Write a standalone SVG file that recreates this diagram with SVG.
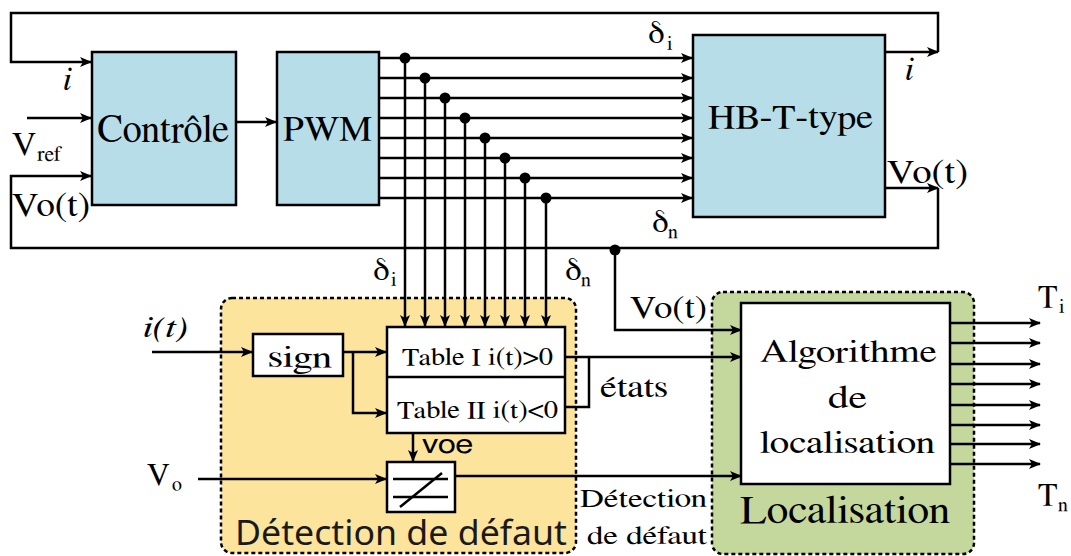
<svg xmlns="http://www.w3.org/2000/svg" width="1071" height="556" viewBox="0 0 1071 556">
<defs>
<marker id="ah" viewBox="0 0 12 10" refX="11" refY="5" markerWidth="12" markerHeight="10" markerUnits="userSpaceOnUse" orient="auto">
<path d="M0,0 L12,5 L0,10 L3,5 z" fill="#000"/>
</marker>
<style>
.ln{fill:none;stroke:#000;stroke-width:2.5}
.ar{fill:none;stroke:#000;stroke-width:2.5;marker-end:url(#ah)}
.box{stroke:#000;stroke-width:2.5}
.blue{fill:#b7dde8}
.dot{fill:#000}
</style>
</defs>
<rect width="1071" height="556" fill="#fff"/>

<g id="grp-detection">
<rect x="221" y="298" width="355" height="255" rx="11" fill="#fde49d" stroke="#000" stroke-width="2.5" stroke-dasharray="4,3"/>
<text font-family="Noto Sans, sans-serif" x="235" y="545" font-size="35" textLength="332" lengthAdjust="spacingAndGlyphs" fill="#1a1a1a">Détection de défaut</text>
</g>
<g id="grp-localisation">
<rect x="712" y="292" width="262" height="262" rx="11" fill="#c4d79c" stroke="#000" stroke-width="2.5" stroke-dasharray="4,3"/>
<text font-family="FreeSerif, Liberation Serif, serif" x="740" y="523" font-size="40" textLength="210" lengthAdjust="spacingAndGlyphs">Localisation</text>
</g>

<g id="connectors">
<path class="ar" d="M885,52 H938"/>
<path class="ar" d="M938,52 V13 H11 V62 H91"/>
<path class="ar" d="M27,118 H91"/>
<path class="ar" d="M885,188 H938"/>
<path class="ar" d="M938,188 V248 H11 V176 H91"/>
<path class="ar" d="M236,122 H276"/>
<path class="ar" d="M379,58 H692"/>
<path class="ar" d="M379,78 H692"/>
<path class="ar" d="M379,98 H692"/>
<path class="ar" d="M379,118 H692"/>
<path class="ar" d="M379,138 H692"/>
<path class="ar" d="M379,158 H692"/>
<path class="ar" d="M379,178 H692"/>
<path class="ar" d="M379,198 H692"/>
<path class="ar" d="M405,58 V326"/>
<path class="ar" d="M425,78 V326"/>
<path class="ar" d="M445,98 V326"/>
<path class="ar" d="M465,118 V326"/>
<path class="ar" d="M485,138 V326"/>
<path class="ar" d="M505,158 V326"/>
<path class="ar" d="M525,178 V326"/>
<path class="ar" d="M546,198 V326"/>
<circle class="dot" cx="405" cy="58" r="5.5"/>
<circle class="dot" cx="425" cy="78" r="5.5"/>
<circle class="dot" cx="445" cy="98" r="5.5"/>
<circle class="dot" cx="465" cy="118" r="5.5"/>
<circle class="dot" cx="485" cy="138" r="5.5"/>
<circle class="dot" cx="505" cy="158" r="5.5"/>
<circle class="dot" cx="525" cy="178" r="5.5"/>
<circle class="dot" cx="546" cy="198" r="5.5"/>
<circle class="dot" cx="615" cy="250" r="5.5"/>
<path class="ar" d="M615,250 V330 H741"/>
<path class="ar" d="M152,352 H252"/>
<path class="ar" d="M343,352 H386"/>
<path class="ar" d="M353,352 V413 H386"/>
<path class="ar" d="M565,357 H741"/>
<path class="ln" d="M565,407 H589 V357"/>
<path class="ar" d="M413,433 V461"/>
<path class="ar" d="M198,479 H386"/>
<path class="ar" d="M455,476 H741"/>
<path class="ar" d="M950,323 H1040"/>
<path class="ar" d="M950,343 H1040"/>
<path class="ar" d="M950,364 H1040"/>
<path class="ar" d="M950,384 H1040"/>
<path class="ar" d="M950,405 H1040"/>
<path class="ar" d="M950,425 H1040"/>
<path class="ar" d="M950,444 H1040"/>
<path class="ar" d="M950,464 H1040"/>
</g>

<g font-family="FreeSerif, Liberation Serif, serif">
<g id="node-controle">
<rect class="box blue" x="92" y="52" width="144" height="153"/>
<text x="97" y="142" font-size="39" textLength="132" lengthAdjust="spacingAndGlyphs">Contrôle</text>
</g>
<g id="node-pwm">
<rect class="box blue" x="277" y="52" width="102" height="153"/>
<text x="283" y="140" font-size="35" textLength="89" lengthAdjust="spacingAndGlyphs">PWM</text>
</g>
<g id="node-hb">
<rect class="box blue" x="693" y="35" width="192" height="182"/>
<text x="708" y="128" font-size="34" textLength="165" lengthAdjust="spacingAndGlyphs">HB-T-type</text>
</g>
<g id="node-sign">
<rect class="box" fill="#fff" x="253" y="334" width="90" height="42"/>
<text x="268" y="367" font-size="31" textLength="64" lengthAdjust="spacingAndGlyphs">sign</text>
</g>
<g id="node-table">
<rect class="box" fill="#fff" x="387" y="327" width="178" height="106"/>
<line class="ln" x1="387" y1="377" x2="565" y2="377"/>
<text x="402" y="365" font-size="25" textLength="151" lengthAdjust="spacingAndGlyphs">Table I i(t)&gt;0</text>
<text x="397" y="418" font-size="25" textLength="161" lengthAdjust="spacingAndGlyphs">Table II i(t)&lt;0</text>
</g>
<g id="node-comparator">
<rect class="box" fill="#fff" x="387" y="462" width="68" height="50"/>
<line class="ln" x1="393" y1="479" x2="448" y2="479"/>
<line class="ln" x1="393" y1="497" x2="448" y2="497"/>
<line class="ln" x1="400" y1="507" x2="442" y2="473"/>
</g>
<g id="node-algorithme">
<rect class="box" fill="#fff" x="741" y="303" width="209" height="181"/>
<text x="760" y="362" font-size="32" textLength="177" lengthAdjust="spacingAndGlyphs">Algorithme</text>
<text x="828" y="408" font-size="32" textLength="39" lengthAdjust="spacingAndGlyphs">de</text>
<text x="760" y="453" font-size="32" textLength="175" lengthAdjust="spacingAndGlyphs">localisation</text>
</g>

<g id="labels">
<text x="63" y="90" font-size="34" font-style="italic">i</text>
<text x="12" y="155" font-size="34">V</text>
<text x="37" y="161" font-size="22">ref</text>
<text x="12" y="216" font-size="34" textLength="78" lengthAdjust="spacingAndGlyphs">Vo(t)</text>
<text x="648" y="43" font-size="32">δ</text>
<text x="667" y="50" font-size="20">i</text>
<text x="652" y="232" font-size="32">δ</text>
<text x="668" y="238" font-size="20">n</text>
<text x="905" y="80" font-size="34" font-style="italic">i</text>
<text x="887" y="183" font-size="34" textLength="81" lengthAdjust="spacingAndGlyphs">Vo(t)</text>
<text x="373" y="280" font-size="32">δ</text>
<text x="391" y="286" font-size="20">i</text>
<text x="565" y="280" font-size="32">δ</text>
<text x="581" y="286" font-size="20">n</text>
<text x="630" y="318" font-size="32" textLength="77" lengthAdjust="spacingAndGlyphs">Vo(t)</text>
<text x="143" y="337" font-size="30" font-style="italic" textLength="45" lengthAdjust="spacingAndGlyphs">i(t)</text>
<text font-family="FreeSans, Liberation Sans, sans-serif" x="422" y="453" font-size="26" textLength="51" lengthAdjust="spacingAndGlyphs">voe</text>
<text x="147" y="485" font-size="32">V</text>
<text x="172" y="491" font-size="20">o</text>
<text x="600" y="397" font-size="30" textLength="68" lengthAdjust="spacingAndGlyphs">états</text>
<text x="580" y="507" font-size="26" textLength="127" lengthAdjust="spacingAndGlyphs">Détection</text>
<text x="587" y="544" font-size="26" textLength="120" lengthAdjust="spacingAndGlyphs">de défaut</text>
<text x="1038" y="307" font-size="32">T</text>
<text x="1059" y="313" font-size="20">i</text>
<text x="1038" y="505" font-size="32">T</text>
<text x="1058" y="511" font-size="20">n</text>
</g>
</g>
</svg>
